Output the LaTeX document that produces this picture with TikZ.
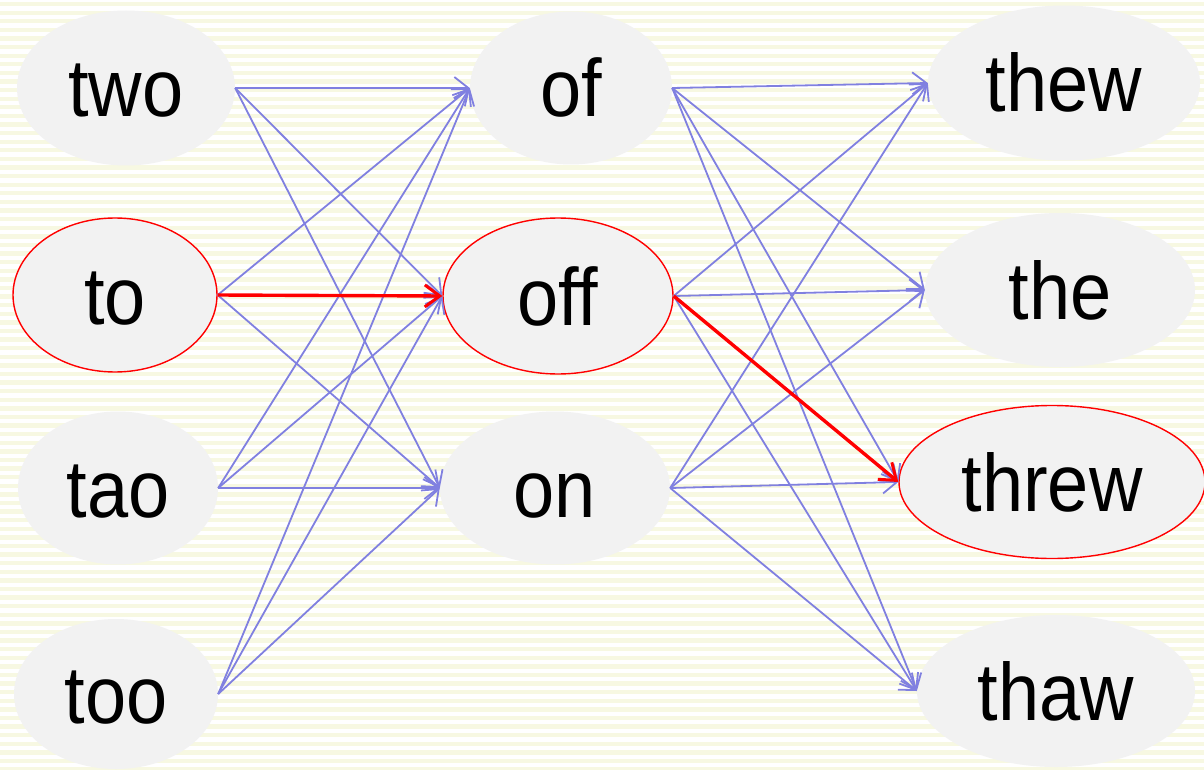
\documentclass[tikz,border=0pt]{standalone}
\usepackage{graphicx}
\usepackage{fontspec}
\setmainfont{Liberation Sans}[Ligatures={NoCommon}]
\usetikzlibrary{shapes.geometric,arrows.meta}
\definecolor{bgstripe}{HTML}{F7F8E2}
\definecolor{nodefill}{HTML}{F2F2F2}
\definecolor{edgeblue}{HTML}{8080E0}
\definecolor{pathred}{HTML}{FF0000}
\newcommand\tallword[1]{\scalebox{1}[1.1]{#1}}
\tikzset{
  word/.style={ellipse, fill=nodefill, inner sep=0pt, text height=58pt, text depth=0pt,
    font=\fontsize{74}{78}\selectfont},
  chosen/.style={draw=pathred, line width=1.4pt},
  link/.style={draw=edgeblue, line width=1.8pt, -{Straight Barb[length=14pt,width=22pt,line width=1.8pt]}},
  best/.style={draw=pathred, line width=3.4pt, -{Straight Barb[length=15pt,width=22pt,line width=3pt]}}
}
\begin{document}
\begin{tikzpicture}[x=1pt,y=-1pt]
\useasboundingbox (0,0) rectangle (1204,770);
\fill[white] (0,0) rectangle (1204,770);
\foreach \k in {0,...,89} {
  \fill[bgstripe] (0,{\k*8.6+2}) rectangle (1204,{\k*8.6+6.3});
}
% left column
\node[word, minimum width=218pt, minimum height=155pt] (two) at (126,88) {\tallword{two}};
\node[word, chosen, minimum width=204pt, minimum height=154pt] (to) at (115,295) {\tallword{to}};
\node[word, minimum width=200pt, minimum height=153pt] (tao) at (118,488) {\tallword{tao}};
\node[word, minimum width=204pt, minimum height=150pt] (too) at (116,694) {\tallword{too}};
% middle column
\node[word, minimum width=202pt, minimum height=153pt] (of) at (571,88) {\tallword{of}};
\node[word, chosen, minimum width=230pt, minimum height=156pt] (off) at (558,296) {\tallword{off}};
\node[word, minimum width=230pt, minimum height=153pt] (on) at (555,488) {\tallword{on}};
% right column
\node[word, minimum width=272pt, minimum height=155pt] (thew) at (1064,83) {\tallword{thew}};
\node[word, minimum width=270pt, minimum height=154pt] (the) at (1060,290) {\tallword{the}};
\node[word, chosen, minimum width=306pt, minimum height=153pt] (threw) at (1052,482) {\tallword{threw}};
\node[word, minimum width=278pt, minimum height=152pt] (thaw) at (1056,691) {\tallword{thaw}};
% left -> middle
\foreach \a in {two,to,tao,too} {
  \foreach \b in {of,off,on} {
    \draw[link] (\a.east) -- (\b.west);
  }
}
% middle -> right
\foreach \a in {of,off,on} {
  \foreach \b in {thew,the,threw,thaw} {
    \draw[link] (\a.east) -- (\b.west);
  }
}
% best path
\draw[best] (to.east) -- (off.west);
\draw[best] (off.east) -- (threw.west);
\end{tikzpicture}
\end{document}
